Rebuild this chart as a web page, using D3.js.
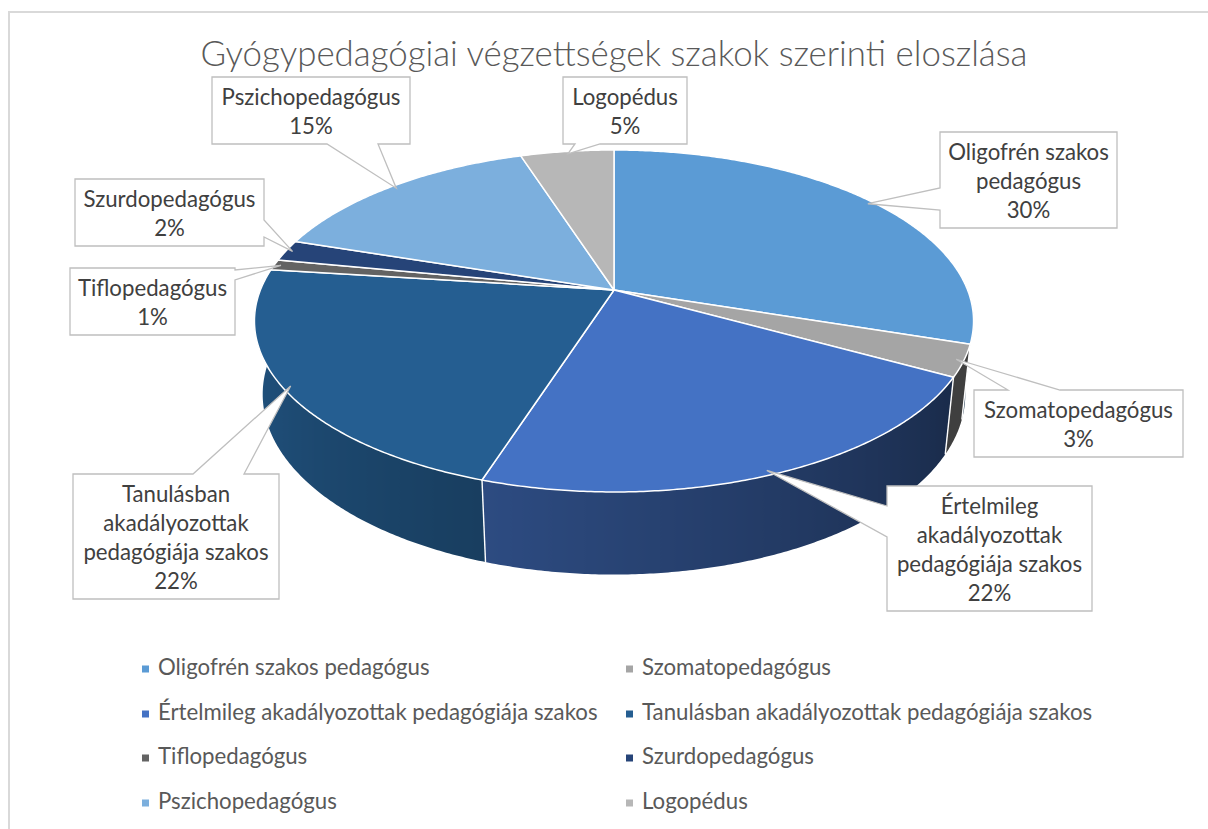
<!DOCTYPE html>
<html><head><meta charset="utf-8">
<script src="https://cdn.jsdelivr.net/npm/d3@7"></script>
<style>html,body{margin:0;padding:0;background:#fff}svg{display:block}</style>
</head><body>
<svg id="c" width="1208" height="829"></svg>
<script>
// ---------- data ----------
const categories = ["Oligofrén szakos pedagógus","Szomatopedagógus","Értelmileg akadályozottak pedagógiája szakos","Tanulásban akadályozottak pedagógiája szakos","Tiflopedagógus","Szurdopedagógus","Pszichopedagógus","Logopédus"];
const values = [30, 3, 22, 22, 1, 2, 15, 5];
const colors = ["#5B9BD5","#A5A5A5","#4472C4","#255E91","#636363","#264478","#7CAFDD","#B7B7B7"];
const labelLines = [["Oligofrén szakos","pedagógus"],["Szomatopedagógus"],["Értelmileg","akadályozottak","pedagógiája szakos"],["Tanulásban","akadályozottak","pedagógiája szakos"],["Tiflopedagógus"],["Szurdopedagógus"],["Pszichopedagógus"],["Logopédus"]];
const title = "Gyógypedagógiai végzettségek szakok szerinti eloszlása";

// ---------- layout ----------
const labelBoxes = [
  {x:940, y:132, w:177, side:"left",   a:56,  b:78},
  {x:974, y:390, w:209, side:"top",    a:34,  b:86},
  {x:887, y:486, w:205, side:"left",   a:20,  b:51},
  {x:73,  y:474, w:206, side:"top",    a:120, b:171},
  {x:70,  y:268, w:165, side:"right",  a:2,   b:12},
  {x:75,  y:179, w:189, side:"right",  a:41,  b:58},
  {x:212, y:77,  w:198, side:"bottom", a:115, b:166},
  {x:563, y:77,  w:124, side:"bottom", a:12,  b:37}
];
const FONT = "Lato, 'Open Sans', 'Noto Sans', sans-serif";
const P = {cx:614, cy:290, k:353.6, s:0.4677, c:0.884, f:4.88, h:0.237};

const svg = d3.select("#c");
const defs = svg.append("defs");

// chart frame
svg.append("rect").attr("x",9).attr("y",12).attr("width",1400).attr("height",1000)
  .attr("fill","#fff").attr("stroke","#D9D9D9").attr("stroke-width",2);

function fitSize(str, target, weight){
  const t = svg.append("text").attr("font-family",FONT).attr("font-size",100)
    .attr("font-weight",weight).text(str);
  const w = t.node().getComputedTextLength(); t.remove();
  return 100*target/w;
}
const titleSize = fitSize(title, 827, 300);
const labelSize = fitSize("Szomatopedagógus", 189, 400);

// perspective projection of a point on the disc (theta clockwise from top)
function proj(theta, r, y){
  const x = r*Math.sin(theta), z = -r*Math.cos(theta);
  const d = z*P.c + y*P.s;
  const sc = P.f/(P.f - d);
  return [P.cx + P.k*x*sc, P.cy + P.k*(z*P.s - y*P.c)*sc];
}

const arcs = d3.pie().sort(null).value(v=>v)(values);
const total = d3.sum(values);
const pct = d3.format(".0%");
const deg = Math.PI/180;
const shade = d3.scaleLinear().domain([120*deg, 280*deg]).range([0.38, 0.956]).clamp(true);
const step = 0.5*deg;

// ---------- side walls (one path per slice, shaded by gradient) ----------
const gWall = svg.append("g");
arcs.forEach((a,i)=>{
  const t0 = Math.max(a.startAngle, 88*deg), t1 = Math.min(a.endAngle, 272*deg);
  if (t1 <= t0) return;
  const base = d3.rgb(colors[i]);
  const n = Math.max(2, Math.ceil((t1-t0)/step));
  const ts = d3.range(n+1).map(j=>t0+(t1-t0)*j/n);
  const top = ts.map(t=>proj(t,1,0));
  const bot = ts.map(t=>proj(t,1,-P.h)).reverse();
  const x1 = top[0][0], x2 = top[n][0];
  const id = "wall"+i;
  const grad = defs.append("linearGradient").attr("id",id)
    .attr("gradientUnits","userSpaceOnUse")
    .attr("x1",x1).attr("y1",0).attr("x2",x2).attr("y2",0);
  ts.forEach((t,j)=>{
    const f = shade(t);
    grad.append("stop").attr("offset", Math.abs(x2-x1)<1e-6?0:(top[j][0]-x1)/(x2-x1))
      .attr("stop-color", d3.rgb(base.r*f, base.g*f, base.b*f).formatHex());
  });
  gWall.append("path").attr("d","M"+top.concat(bot).map(p=>p.join(",")).join("L")+"Z")
    .attr("fill","url(#"+id+")");
});
// white separators on the walls
arcs.forEach(a=>{
  const t = a.startAngle;
  if (t > 90*deg && t < 270*deg){
    const p0 = proj(t,1,0), p1 = proj(t,1,-P.h);
    gWall.append("line").attr("x1",p0[0]).attr("y1",p0[1]).attr("x2",p1[0]).attr("y2",p1[1])
      .attr("stroke","#fff").attr("stroke-width",1.4);
  }
});

// ---------- top faces ----------
const gTop = svg.append("g");
arcs.forEach((a,i)=>{
  const pts = [proj(0,0,0)];
  const n = Math.max(2, Math.ceil((a.endAngle-a.startAngle)/step));
  for (let j=0;j<=n;j++){
    const t = a.startAngle + (a.endAngle-a.startAngle)*j/n;
    pts.push(proj(t,1,0));
  }
  gTop.append("path").attr("d","M"+pts.map(p=>p.join(",")).join("L")+"Z")
    .attr("fill",colors[i]).attr("stroke","#fff").attr("stroke-width",1.5)
    .attr("stroke-linejoin","round");
});

// ---------- callout labels ----------
function calloutPath(b, h, tip){
  const x0=b.x, y0=b.y, x1=b.x+b.w, y1=b.y+h;
  const p=[[x0,y0]];
  if(b.side==="top"){ p.push([x0+b.a,y0], tip, [x0+b.b,y0]); }
  p.push([x1,y0]);
  if(b.side==="right"){ p.push([x1,y0+b.a], tip, [x1,y0+b.b]); }
  p.push([x1,y1]);
  if(b.side==="bottom"){ p.push([x0+b.b,y1], tip, [x0+b.a,y1]); }
  p.push([x0,y1]);
  if(b.side==="left"){ p.push([x0,y0+b.b], tip, [x0,y0+b.a]); }
  return "M"+p.map(q=>q.join(",")).join("L")+"Z";
}
const gLab = svg.append("g");
arcs.forEach((a,i)=>{
  const b = labelBoxes[i];
  const lines = labelLines[i].concat([pct(values[i]/total)]);
  const h = lines.length*29 + 9;
  const tip = proj((a.startAngle+a.endAngle)/2, 0.98, 0);
  gLab.append("path").attr("d",calloutPath(b,h,tip))
    .attr("fill","#fff").attr("stroke","#BFBFBF").attr("stroke-width",1.3);
  const tx = gLab.append("text").attr("font-family",FONT).attr("font-size",labelSize)
    .attr("fill","#404040").attr("text-anchor","middle");
  lines.forEach((l,j)=>{
    tx.append("tspan").attr("x",b.x+b.w/2).attr("y",b.y+28+j*29).text(l);
  });
});

// ---------- title ----------
svg.append("text").attr("x",614).attr("y",66).attr("text-anchor","middle")
  .attr("font-family",FONT).attr("font-weight",300).attr("font-size",titleSize)
  .attr("fill","#595959").text(title);

// ---------- legend ----------
const colX = [142, 626], rowY = [669, 714, 758, 803];
const gLeg = svg.append("g");
categories.forEach((c,i)=>{
  const x = colX[i%2], y = rowY[Math.floor(i/2)];
  gLeg.append("rect").attr("x",x).attr("y",y-3.5).attr("width",7).attr("height",7).attr("fill",colors[i]);
  gLeg.append("text").attr("x",x+16).attr("y",y+6).attr("font-family",FONT)
    .attr("font-size",labelSize).attr("fill","#595959").text(c);
});
</script>
</body></html>
